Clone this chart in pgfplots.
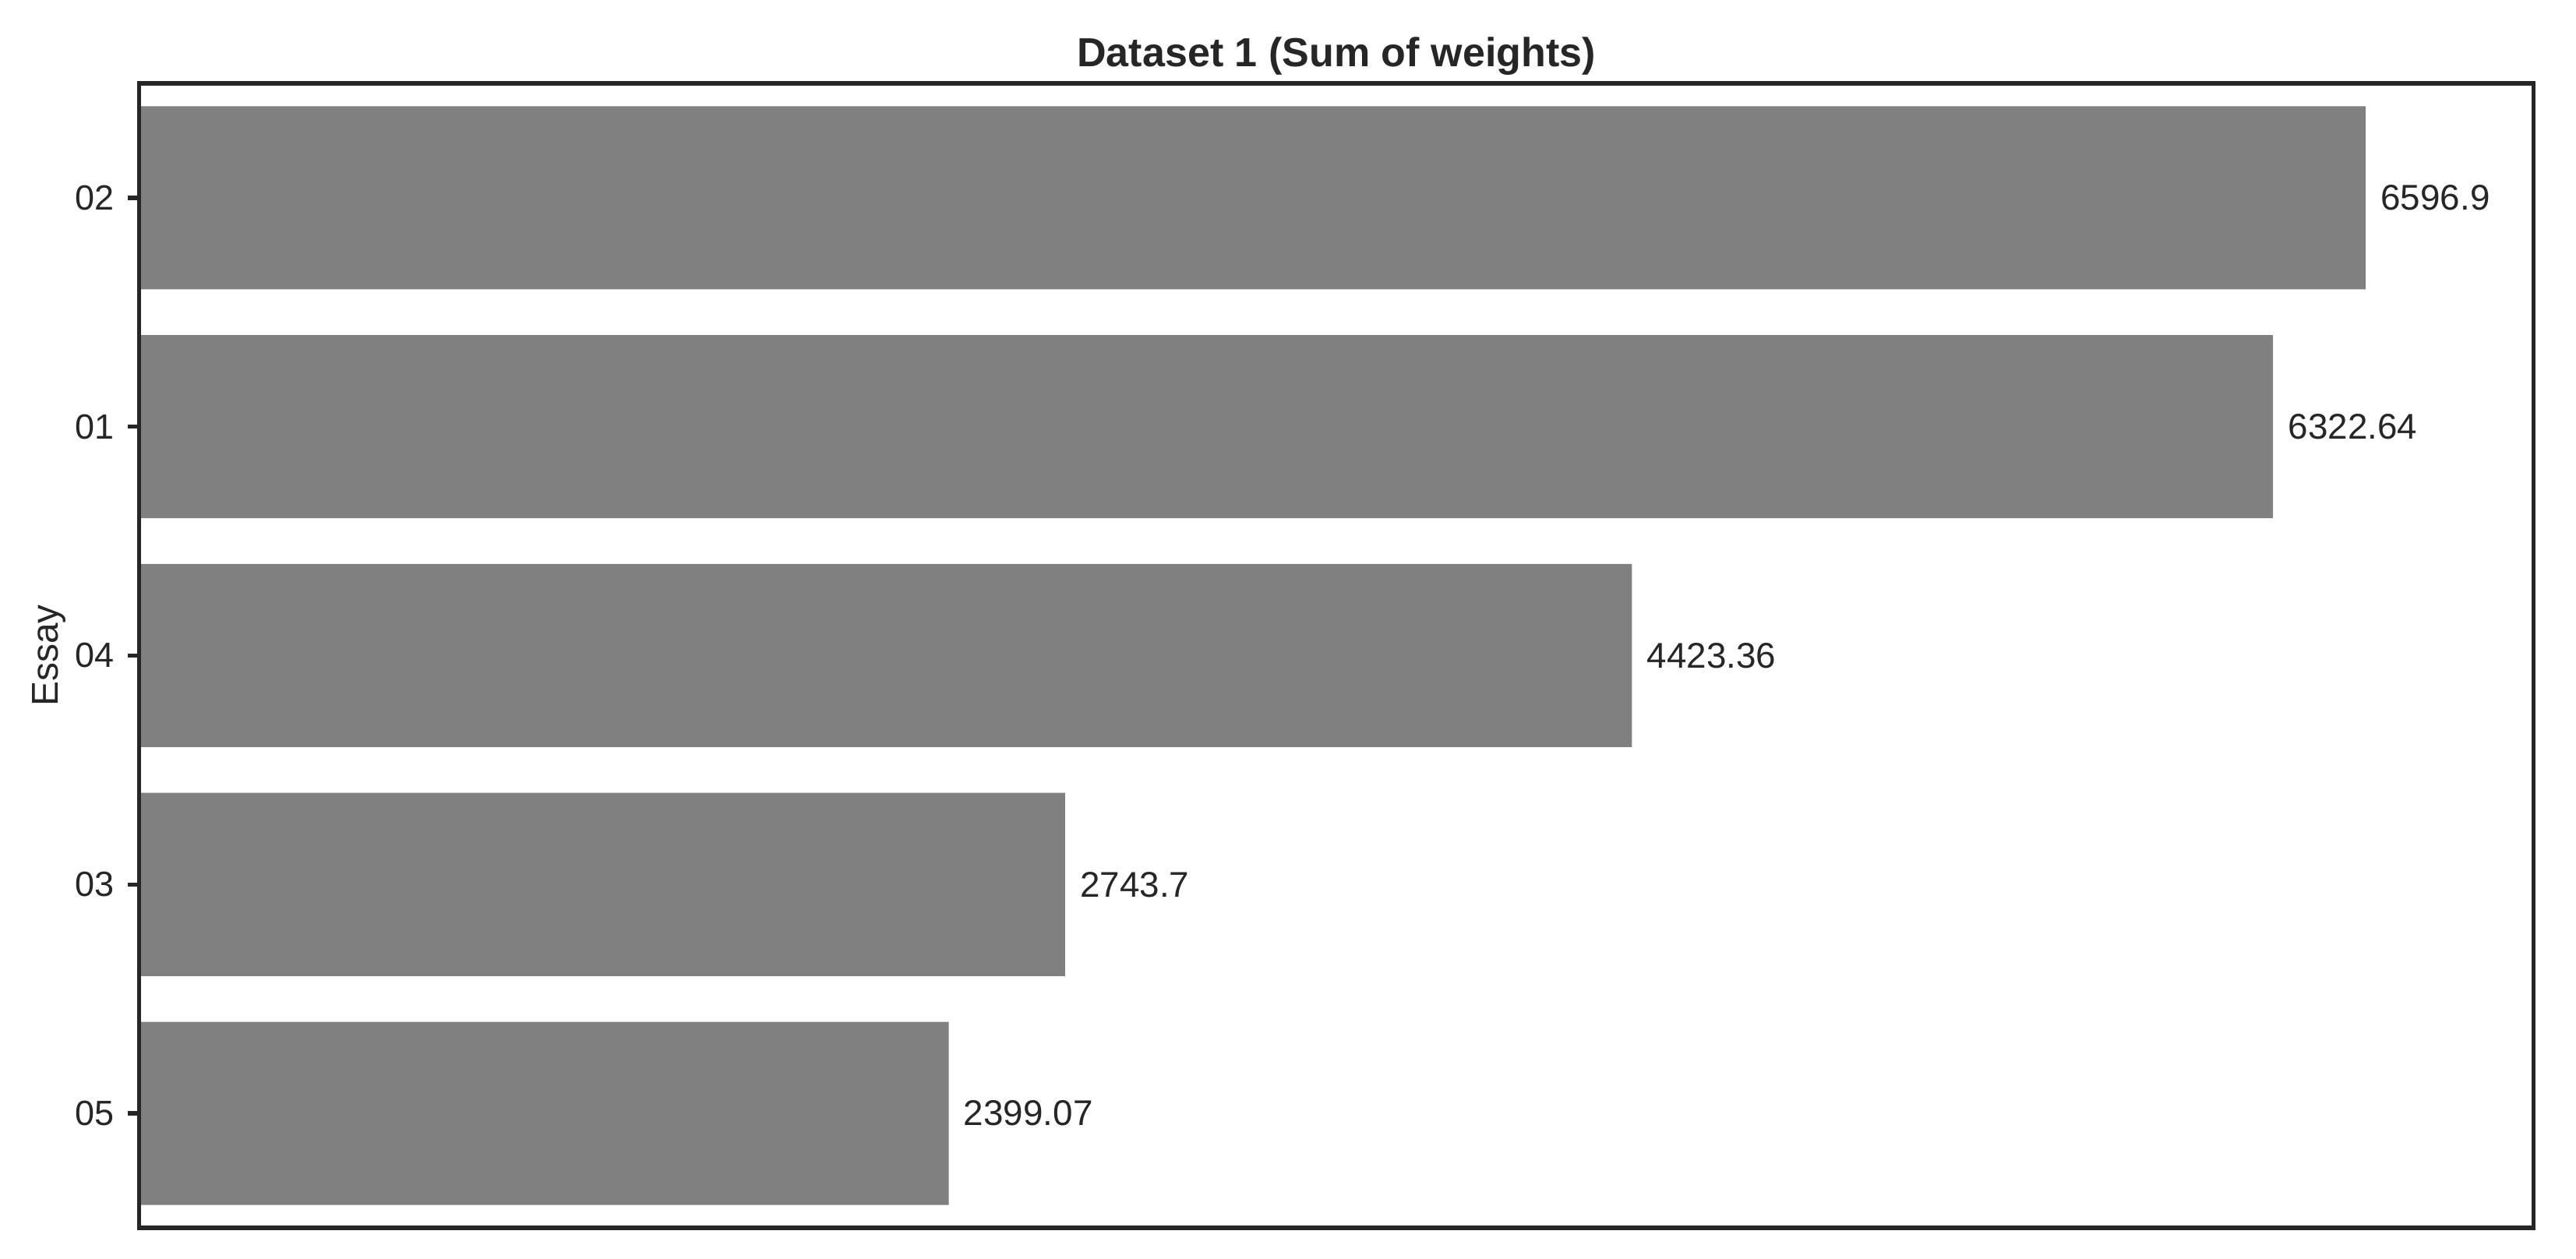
\documentclass[border=0pt]{standalone}
\usepackage{pgfplots}
\pgfplotsset{compat=1.18}
\usepackage{pgfplotstable}
\usepackage{fontspec}
\setmainfont{Liberation Sans}
\definecolor{darkgray}{HTML}{262626}
\definecolor{bargray}{HTML}{808080}
\pgfplotstableread{
y x label
0 2399.07 2399.07
1 2743.7 2743.7
2 4423.36 4423.36
3 6322.64 6322.64
4 6596.9 6596.9
}\datatable
\begin{document}
\begin{tikzpicture}
\path[use as bounding box] (-42.8pt,-9.4pt) rectangle (750.6pt,378.2pt);
\begin{axis}[
  scale only axis,
  width=737.6pt, height=352.5pt,
  xmin=0, xmax=7095,
  ymin=-0.5, ymax=4.5,
  xbar, bar width=0.8,
  axis on top,
  axis line style={darkgray, line width=1.25pt},
  xtick=\empty,
  ytick={0,1,2,3,4},
  yticklabels={05,03,04,01,02},
  ytick pos=left,
  tick align=outside,
  major tick length=3.5pt,
  every tick/.style={darkgray, line width=1.25pt},
  y tick label style={font=\fontsize{10.8}{12}\selectfont, text=darkgray, xshift=-0.6pt},
  ylabel={Essay},
  every axis y label/.style={at={(axis description cs:-0.0375,0.5)}, rotate=90, anchor=center, font=\fontsize{11.5}{13}\selectfont, text=darkgray},
  title={\textbf{Dataset 1 (Sum of weights)}},
  every axis title/.style={at={(axis description cs:0.5,1)}, anchor=base, yshift=5.3pt, font=\fontsize{12.5}{14}\selectfont, text=darkgray},
  nodes near coords={\pgfplotspointmeta},
  point meta=explicit symbolic,
  every node near coord/.append style={anchor=west, xshift=1.1pt, font=\fontsize{11}{13}\selectfont, text=darkgray},
  clip=false,
]
\addplot[fill=bargray, draw=none] table[x=x, y=y, meta=label] {\datatable};
\end{axis}
\end{tikzpicture}
\end{document}
